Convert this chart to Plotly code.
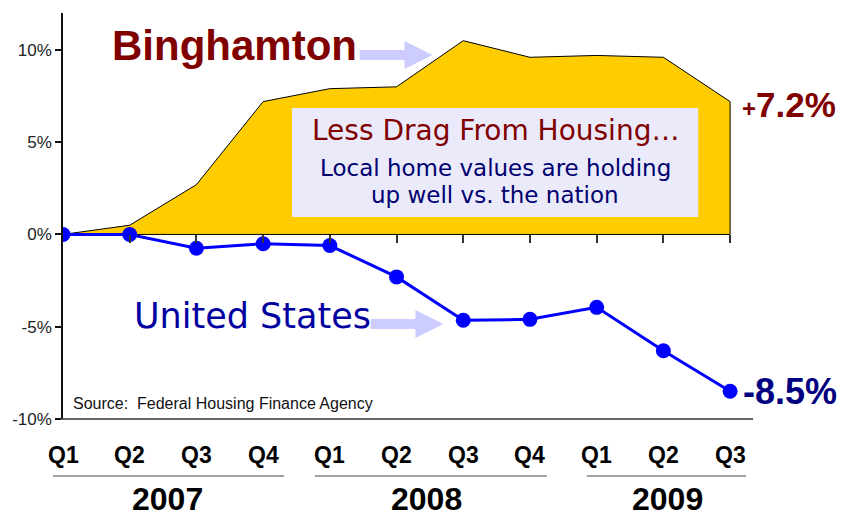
import plotly.graph_objects as go

# ---- data ----
quarters = ["Q1", "Q2", "Q3", "Q4", "Q1", "Q2", "Q3", "Q4", "Q1", "Q2", "Q3"]
years = ["2007", "2008", "2009"]
binghamton = [0.0, 0.5, 2.7, 7.2, 7.9, 8.0, 10.5, 9.6, 9.7, 9.6, 7.2]
united_states = [0.0, 0.0, -0.75, -0.5, -0.6, -2.3, -4.65, -4.6, -3.95, -6.3, -8.5]
ytick_vals = [-10, -5, 0, 5, 10]
ytick_text = ["-10%", "-5%", "0%", "5%", "10%"]

# ---- layout geometry (pixels) ----
W, H = 845, 520
L, R, T, B = 60, 753, 13, 419
STEP = 67.0


def px(x):
    return (x - L) / (R - L)


def py(y):
    return (B - y) / (B - T)


xi = list(range(len(quarters)))

fig = go.Figure()

# Binghamton area (closed polygon down to zero)
poly_x = xi + [xi[-1], xi[0]]
poly_y = binghamton + [0, 0]
fig.add_trace(go.Scatter(
    x=poly_x, y=poly_y, mode="lines", fill="toself",
    fillcolor="#FFCC00", line=dict(color="black", width=1),
    hoverinfo="skip", showlegend=False,
))

# United States line
fig.add_trace(go.Scatter(
    x=xi, y=united_states, mode="lines+markers",
    line=dict(color="#0000FF", width=3),
    marker=dict(color="#0000FF", size=15),
    showlegend=False,
))

shapes = []
# bottom axis line
shapes.append(dict(type="line", xref="paper", yref="paper",
                   x0=px(57), x1=1.0, y0=0, y1=0,
                   line=dict(color="#333333", width=1.5)))
# message box
shapes.append(dict(type="rect", xref="paper", yref="paper",
                   x0=px(290), x1=px(698), y0=py(217), y1=py(108),
                   fillcolor="#EAEAFA", line=dict(width=0), layer="above"))


def arrow(x0, xs, xt, yc, shaft, head):
    pts = [(x0, yc - shaft / 2), (xs, yc - shaft / 2), (xs, yc - head / 2),
           (xt, yc), (xs, yc + head / 2), (xs, yc + shaft / 2), (x0, yc + shaft / 2)]
    d = "M " + " L ".join(f"{px(a):.5f},{py(b):.5f}" for a, b in pts) + " Z"
    return dict(type="path", xref="paper", yref="paper", path=d,
                fillcolor="#CCCCFF", line=dict(width=0), layer="above")


shapes.append(arrow(358, 403, 431, 55, 10, 28))
shapes.append(arrow(369, 414, 442, 324, 10, 28))

# year underlines
for x0, x1 in [(50, 282), (313, 546), (586, 746)]:
    shapes.append(dict(type="line", xref="paper", yref="paper",
                       x0=px(x0), x1=px(x1), y0=py(476), y1=py(476),
                       line=dict(color="#444444", width=1)))

ann = []


def text(x, y, s, size, color, family="Liberation Sans, Arial", bold=False,
         xanchor="center", yanchor="middle"):
    ann.append(dict(x=px(x), y=py(y), xref="paper", yref="paper", text=s,
                    showarrow=False, xanchor=xanchor, yanchor=yanchor,
                    font=dict(size=size, color=color, family=family,
                              weight="bold" if bold else "normal")))


text(232, 46, "Binghamton", 42, "#800000", bold=True)
text(250, 316, "United States", 35, "#0000A0", family="DejaVu Sans")
text(494, 130, "Less Drag From Housing…", 28, "#800000", family="DejaVu Sans")
text(494, 168, "Local home values are holding", 23, "#000070", family="DejaVu Sans")
text(494, 195, "up well vs. the nation", 23, "#000070", family="DejaVu Sans")
text(789, 105, "<span style='font-size:24px'>+</span>7.2%", 35, "#800000", bold=True)
text(790, 391, "-8.5%", 36, "#000080", bold=True)
text(68, 403, "Source:  Federal Housing Finance Agency", 16, "#111111", xanchor="left")

# quarter labels
for i, q in enumerate(quarters):
    ann.append(dict(x=i, y=py(455), xref="x", yref="paper", text=q,
                    showarrow=False, xanchor="center", yanchor="middle",
                    font=dict(size=23, color="black", family="Liberation Sans, Arial",
                              weight="bold")))

# year labels
for yr, xc in zip(years, [165, 425, 667]):
    text(xc, 519, yr, 32, "black", bold=True, yanchor="bottom")

fig.update_layout(
    width=W, height=H,
    margin=dict(l=L, r=W - R, t=T, b=H - B),
    paper_bgcolor="white", plot_bgcolor="white",
    shapes=shapes, annotations=ann,
    xaxis=dict(range=[0, (R - L) / STEP], showgrid=False, zeroline=False,
               showline=False, tickvals=xi[1:], ticks="outside", ticklen=8,
               tickwidth=1.5, tickcolor="#333333", showticklabels=False,
               anchor="free", position=10 / 22),
    yaxis=dict(range=[-10, 12], showgrid=False, zeroline=False,
               showline=True, linecolor="#111111", linewidth=1.5,
               tickvals=ytick_vals, ticktext=ytick_text, ticks="outside",
               ticklen=6, tickwidth=1.5, tickcolor="#111111",
               tickfont=dict(size=17, color="#222222", family="Liberation Sans, Arial")),
)

fig.write_html("out.html", config={"displayModeBar": False},
               post_script="document.body.style.margin='0px';document.body.style.overflow='hidden';")
